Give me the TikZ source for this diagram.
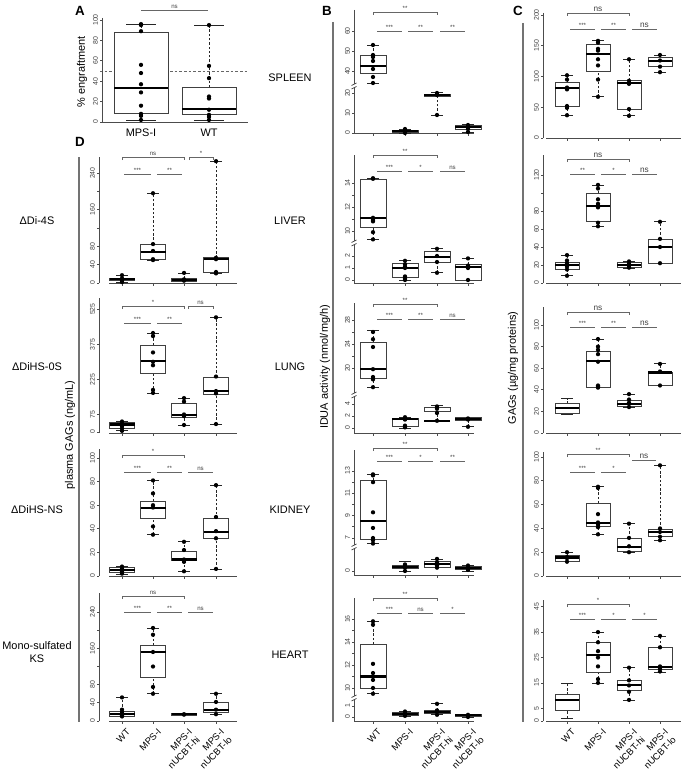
\documentclass[tikz,border=0pt]{standalone}
\usepackage{fontspec}
\setmainfont{Liberation Sans}
\begin{document}
\begin{tikzpicture}[x=0.75pt,y=-0.75pt,
  boxs/.style={draw=black!75, line width=0.6pt, fill=white},
  whisk/.style={draw=black!85, line width=0.6pt, dash pattern=on 1.8pt off 1.4pt},
  capl/.style={draw=black!85, line width=0.6pt},
  medl/.style={draw=black, line width=1.6pt},
  dot/.style={circle, fill=black, inner sep=0pt, minimum size=3.2pt},
  sig/.style={draw=black!60, line width=0.6pt},
  sigt/.style={font=\fontsize{4.6}{5}\selectfont, text=black!75, inner sep=1pt},
  sigc/.style={font=\fontsize{6.2}{7}\selectfont, text=black!75, inner sep=1pt},
  axl/.style={draw=black!70, line width=0.6pt},
  longl/.style={draw=black!55, line width=0.8pt},
  tkl/.style={font=\fontsize{5.2}{6}\selectfont, text=black!75, rotate=90, inner sep=0pt},
  lab/.style={font=\fontsize{8.2}{9.8}\selectfont, align=center},
  panl/.style={font=\fontsize{10}{12}\selectfont\bfseries},
  xl/.style={font=\fontsize{7}{8.4}\selectfont, rotate=45, anchor=north east, align=right, inner sep=0.5pt}]
\useasboundingbox (0,0) rectangle (685,774);
\newcommand\bxp[7]{%
  \draw[whisk] (#1,#2) -- (#1,#3) (#1,#5) -- (#1,#6);
  \draw[capl] ({#1-\cw},#2) -- ({#1+\cw},#2) ({#1-\cw},#6) -- ({#1+\cw},#6);
  \draw[boxs] ({#1-\hw},#3) rectangle ({#1+\hw},#5);
  \draw[medl] ({#1-\hw},#4) -- ({#1+\hw},#4);
  \foreach \v in {#7} {\node[dot] at (#1,\v) {};}}
\newcommand\bxn[6]{%
  \draw[whisk] (#1,#2) -- (#1,#3) (#1,#5) -- (#1,#6);
  \draw[capl] ({#1-\cw},#2) -- ({#1+\cw},#2) ({#1-\cw},#6) -- ({#1+\cw},#6);
  \draw[boxs] ({#1-\hw},#3) rectangle ({#1+\hw},#5);
  \draw[medl] ({#1-\hw},#4) -- ({#1+\hw},#4);}
\newcommand\ytks[3]{\foreach \v in {#2}{\draw[axl] (#1,\v) -- ++(-2.5,0);}%
  \foreach \v in {#3}{\node[tkl] at ({#1-6.5},\v) {\v};}}
\newcommand\xtk[2]{\foreach \u in {#2}{\draw[axl] (\u,#1) -- ++(0,2.5);}}
\newcommand\sgl[5][sigt]{\draw[sig] (#2,#4) -- (#3,#4); \node[#1,above] at ({(#2+#3)/2},#4) {#5};}
\newcommand\sgb[5][sigt]{\draw[sig] (#2,{#4+3}) -- (#2,#4) -- (#3,#4) -- (#3,{#4+3}); \node[#1,above] at ({(#2+#3)/2},#4) {#5};}
\newcommand\brk[2]{\fill[white] ({#1-3},{#2-2}) rectangle ({#1+3},{#2+2});
  \draw[axl] ({#1-2.5},{#2-0.5}) -- ({#1+2.5},{#2-3}) ({#1-2.5},{#2+3}) -- ({#1+2.5},{#2+0.5});}

% long separator lines
\draw[longl] (79,157) -- (79,722);
\draw[longl] (333,22) -- (333,722);
\draw[longl] (523,23) -- (523,722);

% panel letters and labels
\node[panl] (pA) at (80,11) {A};
\node[panl] (pB) at (327,11) {B};
\node[panl] (pC) at (518,11) {C};
\node[panl] (pD) at (80,142) {D};
\node[lab, rotate=90] (yA) at (82,72) {\% engraftment};
\node[lab] (tS) at (290,78) {SPLEEN};
\node[lab] (tLi) at (290,221) {LIVER};
\node[lab] (tLu) at (290,367) {LUNG};
\node[lab] (tK) at (290,510) {KIDNEY};
\node[lab] (tH) at (290,655) {HEART};
\node[lab] (r1) at (37,221) {ΔDi-4S};
\node[lab] (r2) at (37,367) {ΔDiHS-0S};
\node[lab] (r3) at (37,510) {ΔDiHS-NS};
\node[lab] (r4) at (37,652) {Mono-sulfated\\KS};
\node[lab, rotate=90] (yD) at (70,435) {plasma GAGs (ng/mL)};
\node[lab, rotate=90] (yB) at (325,367) {IDUA activity (nmol/mg/h)};
\node[lab, rotate=90] (yC) at (513,368) {GAGs (µg/mg proteins)};
\node[lab] (xa1) at (141,133) {MPS-I};
\node[lab] (xa2) at (209,133) {WT};

% ================= panel A
\def\hw{27}\def\cw{15}
\draw[black!60, line width=0.6pt, dash pattern=on 2pt off 1.5pt] (100,71) -- (248,71);
\begin{scope}[shift={(0,122)},yscale=-1.02]
\ytks{102}{0,20,...,100}{0,20,40,60,80,100}
\bxp{141}{2}{8}{33}{88}{96}{96,95,89,56,48,37,29,16,8,6,2}
\bxp{209}{2}{7}{12.5}{34}{95}{95,55,43,25,23,12,7,5,2}
\end{scope}
\draw[axl] (102,18) -- (102,122);
\draw[axl] (100,122) -- (248,122);
\sgl[sigt]{141}{208}{10}{ns}

% ================= panel D
\def\hw{12.5}\def\cw{6}
\foreach \yy in {283,433,576,721}{\draw[axl] (109,\yy) -- (237,\yy); \xtk{\yy}{122,153,184,216}}
\draw[axl] (99,157) -- (99,283);
\draw[axl] (99,298) -- (99,433);
\draw[axl] (99,449) -- (99,576);
\draw[axl] (99,593) -- (99,721);
\begin{scope}[shift={(0,283)},yscale=-0.458]
\ytks{99}{0,40,...,240}{0,40,80,160,240}
\bxp{122}{2}{5}{8}{11}{17}{17,10,8,5,2}
\bxp{153}{50}{52}{68}{85}{196}{196,85,70,52,50}
\bxp{184}{4}{4}{7}{9}{22}{22,8,5}
\bxp{216}{20}{24}{52}{55}{266}{266,55,52,24,21}
\end{scope}
\sgb{122}{184}{157}{ns}\sgb{189}{213}{157}{*}
\sgl{124}{151}{174}{***}\sgl{157}{182}{174}{**}
\begin{scope}[shift={(0,432)},yscale=-0.234]
\ytks{99}{0,75,225,375,525}{0,75,225,375,525}
\bxp{122}{5}{17}{32}{40}{45}{45,35,25,15,5}
\bxp{153}{167}{252}{303}{372}{423}{423,410,340,300,285,180,167}
\bxp{184}{30}{64}{72}{124}{145}{145,130,75,68,30}
\bxp{216}{34}{162}{175}{235}{490}{490,237,175,165,34}
\end{scope}
\sgb{122}{184}{306}{*}\sgb{188}{213}{306}{ns}
\sgl{124}{151}{323}{***}\sgl{157}{182}{323}{**}
\begin{scope}[shift={(0,576)},yscale=-1.18]
\ytks{99}{0,20,...,100}{0,20,40,60,80,100}
\bxp{122}{1}{3}{5}{7}{8}{8,6,5,4,2}
\bxp{153}{35}{49}{58}{63}{81}{81,70,60,58,42,35}
\bxp{184}{4}{13.5}{14}{21}{29}{29,22,14,12,4}
\bxp{216}{6}{32}{37}{49}{77}{77,50,38,32,6}
\end{scope}
\sgb{122}{184}{455}{*}
\sgl{124}{151}{472}{***}\sgl{157}{182}{472}{**}\sgl{188}{213}{472}{ns}
\begin{scope}[shift={(0,721)},yscale=-0.454]
\ytks{99}{0,40,...,240}{0,40,80,160,240}
\bxp{122}{10}{11}{15}{22}{52}{52,25,20,15,12,10}
\bxp{153}{60}{95}{152}{167}{205}{205,190,152,120,75,60}
\bxp{184}{12}{12}{15}{17}{17}{15,14}
\bxp{216}{15}{20}{24}{40}{60}{60,42,25,15}
\end{scope}
\sgb{122}{184}{596}{ns}
\sgl{124}{151}{612}{***}\sgl{157}{182}{612}{**}\sgl{188}{213}{612}{ns}
\foreach \gx/\gt in {122/WT,153/MPS-I,184/{MPS-I\\nUCBT-hi},216/{MPS-I\\nUCBT-lo}}
  {\node[xl] at ({\gx+4},727) {\gt};}

% ================= panel B
\def\hw{13}\def\cw{6}
\foreach \ya/\yb in {10/133,155/283,303/433,450/575,598/721}
  {\draw[axl] (354,\ya) -- (354,\yb); \draw[axl] (354,\yb) -- (474,\yb); \xtk{\yb}{373,405,437,468}}
% row 1
\begin{scope}[shift={(0,151)},yscale=-2]
\ytks{354}{40,50,60}{40,50,60}
\bxp{373}{34}{39}{42.5}{48}{53}{53,48,47,45,41,37,34}
\end{scope}
\begin{scope}[shift={(0,133)},yscale=-2]
\ytks{354}{0,10,20}{0,10,20}
\bxp{405}{0}{0.5}{1}{1.5}{2}{2,1,0.5,0}
\bxp{437}{9}{18.5}{18.8}{19.5}{20.5}{20,19,9}
\bxp{468}{0.5}{2}{3}{4}{4.5}{4,2,0.5}
\end{scope}
\brk{354}{86}
\sgb{373}{437}{12}{**}
\sgl{377}{402}{31}{***}\sgl{408}{433}{31}{**}\sgl{440}{465}{31}{**}
% row 2
\begin{scope}[shift={(0,351)},yscale=-12]
\ytks{354}{10,11,...,14}{10,12,14}
\bxp{373}{9.33}{10.33}{11.08}{14.33}{14.4}{14.4,14.35,11.1,11,10.9,10.8,9.9,9.3}
\end{scope}
\begin{scope}[shift={(0,280)},yscale=-12]
\ytks{354}{0,1,2}{0,1,2}
\bxp{405}{0}{0.25}{1}{1.4}{1.6}{1.6,1.3,1.1,1,0.3,0.1,0}
\bxp{437}{0.6}{1.5}{1.9}{2.4}{2.6}{2.6,2.0,1.5,0.6}
\bxp{468}{0}{0}{1.05}{1.3}{1.8}{1.8,1.2,1.0,0}
\end{scope}
\brk{354}{243}
\sgb{373}{437}{155}{**}
\sgl{377}{402}{171}{***}\sgl{408}{433}{171}{*}\sgl{440}{465}{171}{ns}
% row 3
\begin{scope}[shift={(0,488)},yscale=-6]
\ytks{354}{20,22,...,28}{20,24,28}
\bxp{373}{16.8}{18.3}{19.8}{24.2}{26.2}{26,24.8,23.5,19.8,18.5,18.1,16.8}
\end{scope}
\begin{scope}[shift={(0,428)},yscale=-6]
\ytks{354}{0,2,4}{0,2,4}
\bxp{405}{0}{0.2}{1.5}{1.6}{1.8}{1.8,1.5,1.4,0.4,0.1}
\bxp{437}{1.2}{2.7}{1.2}{3.5}{3.7}{3.6,3.2,2.5,1.2}
\bxp{468}{0.2}{1.2}{1.5}{1.8}{1.8}{1.6,1.4,0.2}
\end{scope}
\brk{354}{395}
\sgb{373}{437}{304}{**}
\sgl{377}{402}{319}{***}\sgl{408}{433}{319}{**}\sgl{440}{465}{319}{ns}
% row 4
\begin{scope}[shift={(0,616.2)},yscale=-11.17]
\ytks{354}{7,8,...,13}{7,9,11,13}
\bxp{373}{6.5}{6.9}{8.5}{12.2}{12.7}{12.7,12.6,12.0,9.3,7.9,7.0,6.8,6.5}
\end{scope}
\begin{scope}[shift={(0,571)},yscale=-11]
\ytks{354}{0}{0}
\bxp{405}{0}{0.2}{0.35}{0.55}{0.9}{0.6,0.4,0.3,0}
\bxp{437}{0.3}{0.3}{0.6}{0.9}{1.1}{1.1,0.8,0.5,0.3}
\bxp{468}{0}{0.15}{0.3}{0.45}{0.5}{0.5,0.3,0.1}
\end{scope}
\brk{354}{547}
\sgb{373}{437}{448}{**}
\sgl{377}{402}{461}{***}\sgl{408}{433}{461}{*}\sgl{440}{465}{461}{**}
% row 5
\begin{scope}[shift={(0,803)},yscale=-11.5]
\ytks{354}{10,11,...,16}{10,12,14,16}
\bxp{373}{9.5}{10}{11}{13.8}{15.8}{15.8,15.5,12.1,11.3,10.7,10.0,9.5}
\end{scope}
\begin{scope}[shift={(0,717)},yscale=-11]
\ytks{354}{0,1}{0,1}
\bxp{405}{0.1}{0.15}{0.3}{0.45}{0.55}{0.5,0.3,0.1}
\bxp{437}{0.2}{0.35}{0.45}{0.6}{1.2}{1.2,0.6,0.5,0.2}
\bxp{468}{0}{0.1}{0.15}{0.25}{0.25}{0.2,0.1,0}
\end{scope}
\brk{354}{698}
\sgb{373}{437}{598}{**}
\sgl{377}{402}{613}{***}\sgl{408}{433}{613}{ns}\sgl{440}{465}{613}{*}
\foreach \gx/\gt in {373/WT,405/MPS-I,437/{MPS-I\\nUCBT-hi},468/{MPS-I\\nUCBT-lo}}
  {\node[xl] at ({\gx+4},727) {\gt};}

% ================= panel C
\def\hw{12}\def\cw{6}
\foreach \ya/\yb in {13/138,155/283,307/433,452/576,600/721}
  {\draw[axl] (543,\ya) -- (543,\yb); \draw[axl] (546,\yb) -- (681,\yb); \xtk{\yb}{567,598,629,660}}
\begin{scope}[shift={(0,138)},yscale=-0.615]
\ytks{543}{0,50,...,200}{0,50,100,150,200}
\bxp{567}{37}{51}{81}{91}{102}{102,95,82,79,52,49,37}
\bxp{598}{67}{108}{137}{152}{158}{158,155,145,142,128,118,95,67}
\bxp{629}{36}{47}{89}{94}{128}{128,93,88,47,36}
\bxp{660}{107}{117}{125}{131}{135}{135,126,116,107}
\end{scope}
\sgb[sigc]{567}{629}{13}{ns}
\sgl{570}{595}{29}{***}\sgl{601}{626}{29}{**}\sgl[sigc]{632}{657}{29}{ns}
\begin{scope}[shift={(0,283)},yscale=-0.9]
\ytks{543}{0,20,...,120}{0,20,40,60,80,120}
\bxp{567}{8}{15.5}{20}{23}{31}{31,25,22,20,18,15,8}
\bxp{598}{63}{68}{86}{100}{109}{109,105,93,88,86,84,67,63}
\bxp{629}{16}{17.5}{20}{22.5}{24}{24,21,19,17}
\bxp{660}{22}{22}{40}{49}{68}{68,49,40,22}
\end{scope}
\sgb[sigc]{567}{629}{159}{ns}
\sgl{570}{595}{174}{**}\sgl{601}{626}{174}{*}\sgl[sigc]{632}{657}{174}{ns}
\begin{scope}[shift={(0,433)},yscale=-1.08]
\ytks{543}{0,20,...,100}{0,20,40,60,80,100}
\bxn{567}{17}{18.5}{23}{27}{32.5}
\bxp{598}{42}{42.5}{67}{76}{87}{87,80,77,73,66,44,43,42}
\bxp{629}{23.5}{25}{27}{30.5}{36}{36,31,28,27,24}
\bxp{660}{44}{44}{56}{56.5}{64}{64,57,44}
\end{scope}
\sgb[sigc]{567}{629}{312}{ns}
\sgl{570}{595}{327}{***}\sgl{601}{626}{327}{**}\sgl[sigc]{632}{657}{327}{ns}
\begin{scope}[shift={(0,576)},yscale=-1.19]
\ytks{543}{0,20,...,100}{0,20,40,60,80,100}
\bxp{567}{12}{12.5}{15.5}{17.5}{20}{20,16,15,12}
\bxp{598}{35}{42}{44.5}{61}{75}{75,74,52,45,43,41,35}
\bxp{629}{20}{20.5}{24.5}{32}{44}{44,32,25,20}
\bxp{660}{30}{33}{37}{39.5}{93}{93,40,37,33,30}
\end{scope}
\sgb{567}{629}{454}{**}\sgl[sigc]{632}{656}{460}{ns}
\sgl{570}{595}{472}{***}\sgl{601}{626}{472}{*}
\begin{scope}[shift={(0,721)},yscale=-2.54]
\ytks{543}{0,5,15,25,35,45}{0,5,15,25,35,45}
\bxn{567}{1.2}{4.3}{8.3}{10.3}{15}
\bxp{598}{15}{19.2}{26}{31}{35}{35,31,27.5,25,21.5,16.5,15}
\bxp{629}{8.3}{12}{14.3}{16}{21}{21,16,14,11.5,8.3}
\bxp{660}{19}{20.2}{21.2}{29}{33.5}{33.5,29,21.5,20.5,19.5}
\end{scope}
\sgb{567}{629}{604}{*}
\sgl{570}{595}{619}{***}\sgl{601}{626}{619}{*}\sgl{632}{657}{619}{*}
\foreach \gx/\gt in {567/WT,598/MPS-I,629/{MPS-I\\nUCBT-hi},660/{MPS-I\\nUCBT-lo}}
  {\node[xl] at ({\gx+4},727) {\gt};}
\end{tikzpicture}
\end{document}
